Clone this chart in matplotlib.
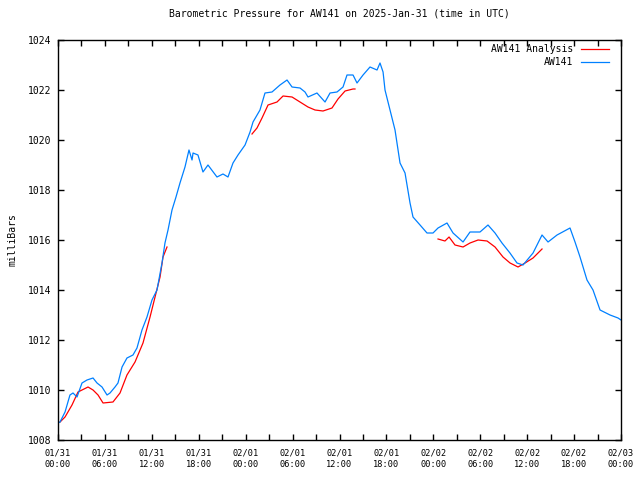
import numpy as np
import matplotlib
matplotlib.use("Agg")
import matplotlib.pyplot as plt
from matplotlib.ticker import MultipleLocator

# Hours since 2025-01-31 00:00 UTC and pressure (mb)
obs_hours = [0.0, 0.26, 0.90, 1.53, 1.92, 2.43, 3.07, 3.71, 4.48, 4.99, 5.63, 6.27, 6.65,
             7.29, 7.67, 8.19, 8.82, 9.59, 10.10, 10.74, 11.38, 12.02, 12.66, 13.30,
             13.68, 14.07, 14.58, 15.09, 15.60, 16.24, 16.75, 17.14, 17.27, 17.90,
             18.54, 19.18, 20.33, 21.10, 21.74, 22.38, 23.02, 23.92, 24.56, 24.94,
             25.83, 26.47, 27.37, 28.39, 29.29, 29.93, 30.95, 31.59, 31.97, 33.12,
             34.15, 34.79, 35.68, 36.45, 36.96, 37.73, 38.24, 39.01, 39.90, 40.80,
             41.18, 41.57, 41.82, 42.46, 43.10, 43.74, 44.38, 45.02, 45.40, 46.30,
             47.19, 47.96, 48.60, 49.75, 50.52, 51.80, 52.69, 53.97, 54.99, 55.89,
             56.78, 57.80, 58.70, 59.47, 60.75, 61.90, 62.67, 63.82, 65.48, 66.12,
             66.76, 67.65, 68.42, 69.32, 70.60, 71.62, 72.0]
obs_press = [1008.68, 1008.72, 1009.12, 1009.80, 1009.88, 1009.72, 1010.28, 1010.40,
             1010.48, 1010.28, 1010.12, 1009.80, 1009.88, 1010.12, 1010.28, 1010.92,
             1011.28, 1011.40, 1011.68, 1012.40, 1012.92, 1013.60, 1014.00, 1015.08,
             1015.88, 1016.40, 1017.20, 1017.72, 1018.28, 1018.92, 1019.60, 1019.20,
             1019.48, 1019.40, 1018.72, 1019.00, 1018.52, 1018.64, 1018.52, 1019.08,
             1019.40, 1019.80, 1020.32, 1020.72, 1021.20, 1021.88, 1021.92, 1022.20,
             1022.40, 1022.12, 1022.08, 1021.92, 1021.72, 1021.88, 1021.52, 1021.88,
             1021.92, 1022.12, 1022.60, 1022.60, 1022.28, 1022.60, 1022.92, 1022.80,
             1023.08, 1022.72, 1022.00, 1021.20, 1020.40, 1019.08, 1018.68, 1017.48,
             1016.92, 1016.60, 1016.28, 1016.28, 1016.48, 1016.68, 1016.28, 1015.92,
             1016.32, 1016.32, 1016.60, 1016.28, 1015.88, 1015.48, 1015.08, 1015.00,
             1015.48, 1016.20, 1015.92, 1016.20, 1016.48, 1015.92, 1015.32, 1014.40,
             1014.00, 1013.20, 1013.00, 1012.88, 1012.80]

ana1_hours = [0.26, 0.90, 1.79, 2.56, 3.84, 4.48, 5.12, 5.76, 7.03, 7.93, 8.82, 9.85,
              10.87, 11.77, 12.41, 13.05, 13.43, 13.94]
ana1_press = [1008.72, 1008.92, 1009.40, 1009.92, 1010.12, 1010.00, 1009.80, 1009.48,
              1009.52, 1009.88, 1010.60, 1011.12, 1011.88, 1012.92, 1013.72, 1014.52,
              1015.32, 1015.72]
ana2_hours = [24.81, 25.45, 26.09, 26.86, 28.01, 28.78, 29.93, 30.95, 31.97, 32.87,
              33.89, 35.04, 35.81, 36.71, 37.73, 37.98]
ana2_press = [1020.24, 1020.48, 1020.88, 1021.40, 1021.52, 1021.76, 1021.72, 1021.52,
              1021.32, 1021.20, 1021.16, 1021.28, 1021.64, 1021.96, 1022.04, 1022.04]
ana3_hours = [48.60, 49.49, 50.01, 50.77, 51.80, 52.69, 53.72, 54.87, 55.89, 56.91,
              57.81, 58.83, 59.73, 60.75, 61.39, 61.90]
ana3_press = [1016.04, 1015.96, 1016.12, 1015.80, 1015.72, 1015.88, 1016.00, 1015.96,
              1015.72, 1015.32, 1015.08, 1014.92, 1015.08, 1015.28, 1015.48, 1015.64]

tick_hours = [0, 6, 12, 18, 24, 30, 36, 42, 48, 54, 60, 66, 72]
tick_labels = ["01/31\n00:00", "01/31\n06:00", "01/31\n12:00", "01/31\n18:00",
               "02/01\n00:00", "02/01\n06:00", "02/01\n12:00", "02/01\n18:00",
               "02/02\n00:00", "02/02\n06:00", "02/02\n12:00", "02/02\n18:00",
               "02/03\n00:00"]

plt.rcParams['font.family'] = ['DejaVu Sans Mono']
plt.rcParams['font.size'] = 7

fig = plt.figure(figsize=(6.4, 4.8), dpi=100)
ax = fig.add_axes([58/640, 40/480, (621-58)/640, 400/480])

red = '#ff0000'
blue = '#0080ff'
ax.plot(ana1_hours, ana1_press, color=red, lw=0.9, label='AW141 Analysis')
ax.plot(ana2_hours, ana2_press, color=red, lw=0.9)
ax.plot(ana3_hours, ana3_press, color=red, lw=0.9)
ax.plot(obs_hours, obs_press, color=blue, lw=0.9, label='AW141')

ax.set_xlim(0, 72)
ax.set_ylim(1008, 1024)
ax.set_xticks(tick_hours)
ax.set_xticklabels(tick_labels, fontsize=6.2, linespacing=1.35)
ax.xaxis.set_minor_locator(MultipleLocator(3))
ax.set_yticks(np.arange(1008, 1025, 2))
ax.tick_params(which='both', direction='in', top=True, right=True, length=4, width=1)
ax.tick_params(axis='x', pad=6)
ax.tick_params(axis='y', labelsize=7, pad=5)
for s in ax.spines.values():
    s.set_linewidth(1)

ax.set_ylabel('milliBars', fontsize=7, labelpad=7)
ax.set_title('Barometric Pressure for AW141 on 2025-Jan-31 (time in UTC)',
             fontsize=7, pad=17)
ax.legend(loc='upper right', frameon=False, markerfirst=False, handlelength=2.9,
          borderpad=0, borderaxespad=0, bbox_to_anchor=(1 - 12/563, 1 - 4/400),
          labelspacing=0.35, handletextpad=0.8, fontsize=7)

fig.savefig('out.png', dpi=100)
